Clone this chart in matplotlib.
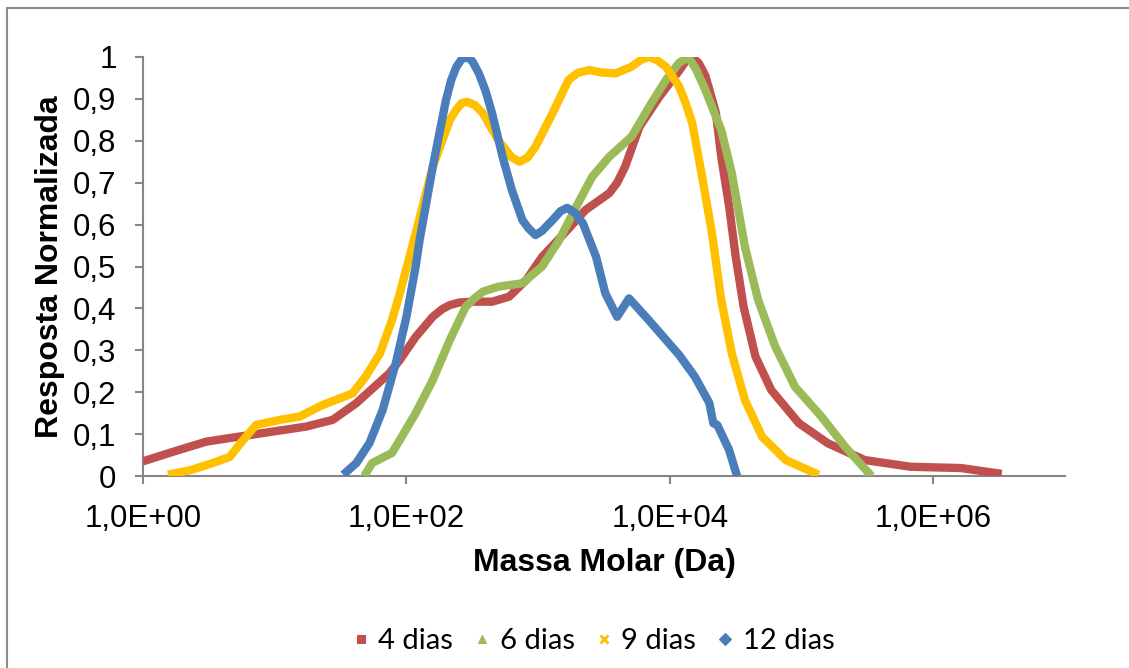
import matplotlib
matplotlib.use("Agg")
import matplotlib.pyplot as plt
from matplotlib.lines import Line2D
import numpy as np

# ---- data ----
logM_4 = [0.0, 0.23, 0.48, 0.73, 0.985, 1.24, 1.44, 1.62, 1.87, 1.95, 2.07, 2.20, 2.27, 2.33, 2.40, 2.50, 2.65, 2.78,
          2.91, 3.03, 3.21, 3.36, 3.54, 3.60, 3.66, 3.77, 3.92, 4.07, 4.12, 4.17, 4.22, 4.27, 4.35, 4.39, 4.45, 4.50,
          4.56, 4.65, 4.77, 4.98, 5.20, 5.48, 5.83, 6.21, 6.52]
resp_4 = [0.035, 0.058, 0.082, 0.094, 0.106, 0.118, 0.134, 0.174, 0.245, 0.277, 0.332, 0.38, 0.398, 0.408, 0.414, 0.416, 0.416, 0.428,
          0.468, 0.523, 0.583, 0.635, 0.675, 0.70, 0.738, 0.834, 0.905, 0.967, 0.99, 1.0, 0.985, 0.955, 0.866, 0.762, 0.643, 0.523,
          0.404, 0.285, 0.205, 0.126, 0.078, 0.038, 0.022, 0.019, 0.005]

logM_6 = [1.68, 1.74, 1.89, 1.95, 2.07, 2.20, 2.33, 2.45, 2.52, 2.58, 2.70, 2.88, 3.03, 3.16, 3.29, 3.41, 3.54,
          3.71, 3.86, 3.97, 4.07, 4.14, 4.20, 4.27, 4.39, 4.47, 4.57, 4.67, 4.80, 4.95, 5.15, 5.33, 5.53]
resp_6 = [0.0, 0.031, 0.055, 0.086, 0.150, 0.229, 0.325, 0.404, 0.425, 0.44, 0.452, 0.46, 0.50, 0.563, 0.643, 0.714, 0.762,
          0.81, 0.89, 0.945, 0.986, 1.0, 0.97, 0.921, 0.826, 0.723, 0.547, 0.42, 0.309, 0.213, 0.142, 0.07, 0.0]

logM_9 = [0.19, 0.36, 0.53, 0.66, 0.76, 0.86, 1.04, 1.19, 1.36, 1.59, 1.69, 1.80, 1.89, 1.95, 2.07, 2.20,
          2.33, 2.38, 2.42, 2.46, 2.52, 2.58, 2.70, 2.80, 2.86, 2.92, 2.98, 3.11, 3.23, 3.30, 3.39, 3.48, 3.59, 3.71,
          3.78, 3.84, 3.90, 3.97, 4.07, 4.12, 4.17,
          4.24, 4.32, 4.39, 4.47, 4.57, 4.70, 4.88, 5.13]
resp_9 = [0.003, 0.014, 0.031, 0.046, 0.086, 0.122, 0.134, 0.142, 0.169, 0.197, 0.237, 0.293, 0.372, 0.436, 0.579, 0.738,
          0.85, 0.875, 0.89, 0.893, 0.885, 0.866, 0.80, 0.76, 0.75, 0.76, 0.786, 0.866, 0.945, 0.962, 0.969, 0.963, 0.961, 0.977,
          0.993, 1.0, 0.993, 0.977, 0.93, 0.89, 0.842,
          0.723, 0.579, 0.42, 0.293, 0.181, 0.094, 0.038, 0.003]

logM_12 = [1.52, 1.62, 1.72, 1.82, 1.92, 2.0, 2.07, 2.10, 2.20, 2.30, 2.34, 2.38, 2.42, 2.46, 2.50, 2.55, 2.60, 2.65,
           2.73, 2.80, 2.88, 2.93, 2.98, 3.03, 3.11, 3.17, 3.22, 3.28, 3.34, 3.44, 3.51, 3.60, 3.69, 3.84, 4.07,
           4.19, 4.30, 4.33, 4.36, 4.45, 4.51]
resp_12 = [0.003, 0.031, 0.079, 0.158, 0.27, 0.38, 0.5, 0.563, 0.738, 0.897, 0.945, 0.977, 0.995, 1.0, 0.99, 0.961, 0.92, 0.866,
           0.762, 0.683, 0.611, 0.59, 0.575, 0.585, 0.611, 0.632, 0.64, 0.628, 0.603, 0.523, 0.436, 0.38, 0.424, 0.372, 0.289,
           0.237, 0.174, 0.126, 0.122, 0.062, 0.0]

series_names = ["4 dias", "6 dias", "9 dias", "12 dias"]
series_colors = ["#C0504D", "#9BBB59", "#FFC000", "#4A7EBB"]
series_markers = ["s", "^", "x", "D"]
x_ticks = [1e0, 1e2, 1e4, 1e6]
x_tick_labels = ["1,0E+00", "1,0E+02", "1,0E+04", "1,0E+06"]
y_ticks = [0, 0.1, 0.2, 0.3, 0.4, 0.5, 0.6, 0.7, 0.8, 0.9, 1.0]
y_tick_labels = ["0", "0,1", "0,2", "0,3", "0,4", "0,5", "0,6", "0,7", "0,8", "0,9", "1"]

W, H = 1129, 668
fig = plt.figure(figsize=(W / 100, H / 100), dpi=100)
fig.patch.set_facecolor("white")
ax = fig.add_axes([143 / W, 1 - 476 / H, (1065 - 143) / W, (476 - 57) / H])

font = ["Liberation Sans", "DejaVu Sans"]
data = [(logM_4, resp_4), (logM_6, resp_6), (logM_9, resp_9), (logM_12, resp_12)]
for (lx, r), c in zip(data, series_colors):
    ax.plot(10 ** np.array(lx), r, color=c, lw=6, solid_capstyle="butt", solid_joinstyle="round", zorder=3)

ax.set_xscale("log")
ax.set_xlim(1, 1e7)
ax.set_ylim(0, 1)
ax.set_xticks(x_ticks)
ax.set_xticklabels(x_tick_labels, fontfamily=font, fontsize=22.5)
ax.xaxis.set_minor_locator(matplotlib.ticker.NullLocator())
ax.set_yticks(y_ticks)
ax.set_yticklabels(y_tick_labels, fontfamily=font, fontsize=22.5)

axis_color = "#868686"
for s in ["top", "right"]:
    ax.spines[s].set_visible(False)
for s in ["left", "bottom"]:
    ax.spines[s].set_color(axis_color)
    ax.spines[s].set_linewidth(1.5)
ax.tick_params(axis="both", which="major", direction="out", length=6, width=1.5, color=axis_color)
ax.tick_params(axis="y", pad=13)
ax.tick_params(axis="x", pad=14)

ax.set_xlabel("Massa Molar (Da)", fontfamily=font, fontsize=23, fontweight="bold", labelpad=10)
ax.set_ylabel("Resposta Normalizada", fontfamily=font, fontsize=23, fontweight="bold", labelpad=6)

handles = [Line2D([], [], color=c, marker=m, linestyle="none", markersize=6,
                  markeredgewidth=2 if m == "x" else 0.8)
           for c, m in zip(series_colors, series_markers)]
fig.legend(handles, series_names, loc="center", bbox_to_anchor=(594 / W, 1 - 641 / H), ncol=4,
           frameon=False, handlelength=0.5, handletextpad=0.35, columnspacing=0.75,
           prop={"family": ["Lato", "DejaVu Sans"], "size": 21})

# outer chart frame (cropped at right and bottom)
fig.add_artist(Line2D([7 / W, 7 / W], [0, 1 - 8 / H], color="#8c8c8c", lw=1.5))
fig.add_artist(Line2D([7 / W, 1], [1 - 8 / H, 1 - 8 / H], color="#8c8c8c", lw=1.5))

fig.savefig("out.png", dpi=100, facecolor="white")
